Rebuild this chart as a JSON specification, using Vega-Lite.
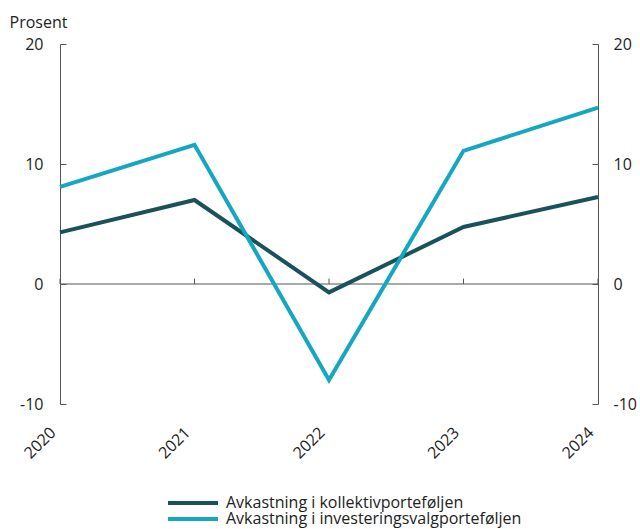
{
  "$schema": "https://vega.github.io/schema/vega-lite/v6.json",
  "width": 538,
  "height": 360,
  "autosize": {"type": "none"},
  "padding": {"left": 60, "top": 44, "right": 42, "bottom": 125},
  "background": "white",
  "config": {
    "view": {"stroke": null},
    "font": "Open Sans",
    "axis": {"labelFont": "Open Sans", "labelFontSize": 16, "labelColor": "#222", "titleFont": "Open Sans", "domainColor": "#555", "tickColor": "#555", "grid": false}
  },
  "datasets": {
    "series": [
      {"year": "2020", "series": "Avkastning i kollektivporteføljen", "value": 4.3},
      {"year": "2021", "series": "Avkastning i kollektivporteføljen", "value": 7.0},
      {"year": "2022", "series": "Avkastning i kollektivporteføljen", "value": -0.7},
      {"year": "2023", "series": "Avkastning i kollektivporteføljen", "value": 4.75},
      {"year": "2024", "series": "Avkastning i kollektivporteføljen", "value": 7.25},
      {"year": "2020", "series": "Avkastning i investeringsvalgporteføljen", "value": 8.1},
      {"year": "2021", "series": "Avkastning i investeringsvalgporteføljen", "value": 11.6},
      {"year": "2022", "series": "Avkastning i investeringsvalgporteføljen", "value": -8.0},
      {"year": "2023", "series": "Avkastning i investeringsvalgporteføljen", "value": 11.1},
      {"year": "2024", "series": "Avkastning i investeringsvalgporteføljen", "value": 14.7}
    ],
    "ticks": [
      {"year": "2020", "y0": 0, "y1": 0.45},
      {"year": "2021", "y0": 0, "y1": 0.45},
      {"year": "2022", "y0": 0, "y1": 0.45},
      {"year": "2023", "y0": 0, "y1": 0.45},
      {"year": "2024", "y0": 0, "y1": 0.45}
    ]
  },
  "layer": [
    {
      "data": {"name": "ticks"},
      "mark": {"type": "rule", "color": "#555", "strokeWidth": 1},
      "encoding": {
        "x": {"field": "year", "type": "ordinal", "scale": {"type": "point", "padding": 0},
              "axis": {"title": null, "labelAngle": -45, "domain": false, "ticks": false, "labelPadding": 20, "labelOffset": -13, "labelFontSize": 16}},
        "y": {"field": "y0", "type": "quantitative", "scale": {"domain": [-10, 20]},
              "axis": {"orient": "left", "values": [-10, 0, 10, 20], "labelExpr": "toString(datum.value)", "tickSize": -6, "labelPadding": 23, "title": "Prosent", "titleAngle": 0, "titleX": -51, "titleY": -17, "titleAlign": "left", "titleBaseline": "alphabetic", "titleFontSize": 16, "titleFontWeight": "normal", "titleColor": "#222"}},
        "y2": {"field": "y1"}
      }
    },
    {
      "data": {"values": [{"z": 0}]},
      "mark": {"type": "rule", "color": "#555", "strokeWidth": 1},
      "encoding": {
        "y": {"field": "z", "type": "quantitative", "scale": {"domain": [-10, 20]},
              "axis": {"orient": "right", "values": [-10, 0, 10, 20], "labelExpr": "toString(datum.value)", "tickSize": -6, "labelPadding": 21, "title": null}}
      }
    },
    {
      "data": {"name": "series"},
      "mark": {"type": "line", "strokeWidth": 4},
      "encoding": {
        "x": {"field": "year", "type": "ordinal",
              "axis": {"title": null, "labelAngle": -45, "domain": false, "ticks": false, "labelPadding": 20, "labelOffset": -13, "labelFontSize": 16}},
        "y": {"field": "value", "type": "quantitative", "axis": null},
        "color": {"field": "series", "type": "nominal",
          "scale": {"domain": ["Avkastning i kollektivporteføljen", "Avkastning i investeringsvalgporteføljen"], "range": ["#1a525b", "#14a7bf"]},
          "legend": {"title": null, "orient": "none", "legendX": 125, "legendY": 451, "direction": "vertical", "symbolType": "M-5,0H5", "symbolSize": 100, "symbolStrokeWidth": 4, "symbolFillColor": "transparent", "labelFontSize": 16, "labelFont": "Open Sans", "labelColor": "#222", "labelOffset": 25, "rowPadding": 0, "padding": 0, "labelLimit": 400}
        }
      }
    }
  ],
  "resolve": {"axis": {"y": "independent"}}
}
